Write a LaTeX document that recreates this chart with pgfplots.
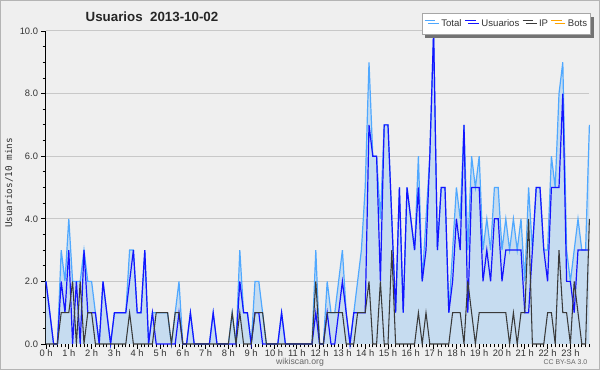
\documentclass[border=0pt]{standalone}
\usepackage{fontspec}
\setmainfont{Liberation Sans}
\newfontfamily\monofont{DejaVu Sans Mono}
\usepackage{pgfplots}
\usepackage{pgfplotstable}
\pgfplotsset{compat=1.18}
\usetikzlibrary{shadows}
\definecolor{bg}{HTML}{EFEFEF}
\definecolor{framec}{HTML}{B4B4B4}
\definecolor{gridc}{HTML}{C8C8C8}
\definecolor{totc}{HTML}{4FA8FF}
\definecolor{fillc}{HTML}{C6DCF0}
\definecolor{usrc}{HTML}{1414FF}
\definecolor{ipc}{HTML}{3A3A3A}
\definecolor{botc}{HTML}{FFA500}
\definecolor{txtc}{HTML}{333333}

\pgfplotstableread{
i T U IP
0 2 2 0
1 1 1 0
2 0 0 0
3 0 0 0
4 3 2 1
5 2 1 1
6 4 3 1
7 2 0 2
8 2 2 0
9 2 0 2
10 3 3 0
11 2 1 1
12 2 1 1
13 1 1 0
14 0 0 0
15 2 2 0
16 1 1 0
17 0 0 0
18 1 1 0
19 1 1 0
20 1 1 0
21 1 1 0
22 3 2 1
23 3 3 0
24 1 1 0
25 1 1 0
26 3 3 0
27 0 0 0
28 1 1 0
29 1 0 1
30 1 0 1
31 1 0 1
32 1 0 1
33 0 0 0
34 1 0 1
35 2 1 1
36 0 0 0
37 0 0 0
38 1 1 0
39 0 0 0
40 0 0 0
41 0 0 0
42 0 0 0
43 0 0 0
44 1 1 0
45 0 0 0
46 0 0 0
47 0 0 0
48 0 0 0
49 1 0 1
50 0 0 0
51 3 2 1
52 1 1 0
53 1 1 0
54 0 0 0
55 2 1 1
56 2 1 1
57 1 0 1
58 0 0 0
59 0 0 0
60 0 0 0
61 0 0 0
62 1 1 0
63 0 0 0
64 0 0 0
65 0 0 0
66 0 0 0
67 0 0 0
68 0 0 0
69 0 0 0
70 0 0 0
71 3 1 2
72 0 0 0
73 0 0 0
74 2 1 1
75 1 0 1
76 1 0 1
77 2 1 1
78 3 2 1
79 1 1 0
80 0 0 0
81 1 1 0
82 2 1 1
83 3 1 1
84 5 1 1
85 9 7 2
86 6 6 0
87 6 6 0
88 4 2 2
89 7 7 0
90 7 7 0
91 4 4 3
92 1 1 0
93 5 5 0
94 1 1 0
95 5 5 0
96 4 4 0
97 3 3 0
98 6 5 1
99 2 2 0
100 4 3 1
101 6 6 0
102 10 10 0
103 3 3 0
104 5 5 0
105 5 5 0
106 1 1 0
107 3 2 1
108 5 4 1
109 4 3 1
110 7 7 0
111 3 1 2
112 6 5 1
113 5 5 0
114 6 5 1
115 3 2 1
116 4 3 1
117 3 2 1
118 5 4 1
119 5 4 1
120 3 2 1
121 4 3 1
122 3 3 0
123 4 3 1
124 3 3 0
125 4 3 1
126 2 1 1
127 5 1 4
128 3 3 0
129 5 5 0
130 5 5 0
131 3 3 0
132 3 2 1
133 6 5 1
134 5 5 0
135 8 5 3
136 9 8 1
137 3 2 1
138 2 2 0
139 3 1 2
140 4 3 1
141 3 3 0
142 3 3 0
143 7 3 4
}\data

\begin{document}
\begin{tikzpicture}[x=0.75pt,y=0.75pt]
\path[use as bounding box, fill=bg, draw=framec, line width=0.75pt] (0.5,0.5) rectangle (599.5,369.5);
\begin{axis}[
  at={(34.5pt,19.5pt)}, anchor=origin,
  scale only axis, width=407.55pt, height=234.75pt,
  xmin=0, xmax=143, ymin=0, ymax=10,
  clip=false,
  axis x line*=bottom, axis y line*=left,
  axis line style={black, line width=0.75pt},
  tick align=outside,
  major tick length=3.5pt, minor tick length=2.5pt,
  every tick/.style={black, line width=0.6pt},
  xtick={0,6,...,138},
  xticklabels={0 h,1 h,2 h,3 h,4 h,5 h,6 h,7 h,8 h,9 h,10 h,11 h,12 h,13 h,14 h,15 h,16 h,17 h,18 h,19 h,20 h,21 h,22 h,23 h},
  minor xtick={0,1,...,143},
  ytick={0,2,...,10},
  minor y tick num=3,
  yticklabel style={/pgf/number format/fixed, /pgf/number format/fixed zerofill, /pgf/number format/precision=1, /pgf/number format/assume math mode=true, xshift=1pt},
  ticklabel style={font=\fontsize{7}{8}\selectfont, text=txtc},
  xticklabel style={yshift=2.5pt},
  ymajorgrids, grid style={gridc, line width=0.75pt},
  legend style={at={(axis description cs:1.003,1.058)}, anchor=north east,
    legend columns=4, draw=gray!70, fill=white, line width=0.75pt,
    font=\fontsize{7.2}{8}\selectfont, text=txtc,
    inner xsep=1.5pt, inner ysep=2.6pt,
    nodes={inner xsep=1pt},
    drop shadow={shadow xshift=2.5pt, shadow yshift=-2.5pt, fill=black!55, opacity=1},
    /tikz/every odd column/.append style={column sep=3pt},
    /tikz/every even column/.append style={column sep=1pt}},
  legend image code/.code={\draw[#1] (0pt,2.6pt) -- (8pt,2.6pt);},
]
\addplot[fill=fillc, draw=none, forget plot] table[x=i, y=T] {\data} \closedcycle;
\addplot[totc, line width=0.9pt] table[x=i, y=T] {\data};
\addlegendentry{Total}
\addplot[usrc, line width=0.9pt] table[x=i, y=U] {\data};
\addlegendentry{Usuarios}
\addplot[ipc, line width=0.8pt] table[x=i, y=IP] {\data};
\addlegendentry{IP}
\addlegendimage{botc, line width=0.9pt}
\addlegendentry{Bots}
\end{axis}
\node[font=\bfseries\fontsize{10}{12}\selectfont, text=black!85] at (152,353) {Usuarios\ \ 2013-10-02};
\node[rotate=90, font=\monofont\fontsize{7}{8}\selectfont, text=txtc] at (9,187) {Usuarios/10 mins};
\node[font=\fontsize{6.5}{7}\selectfont, text=black!60] at (300,7.5) {wikiscan.org};
\node[anchor=east, font=\fontsize{5.2}{6}\selectfont, text=black!60] at (592,7.5) {CC BY-SA 3.0};
\end{tikzpicture}
\end{document}
